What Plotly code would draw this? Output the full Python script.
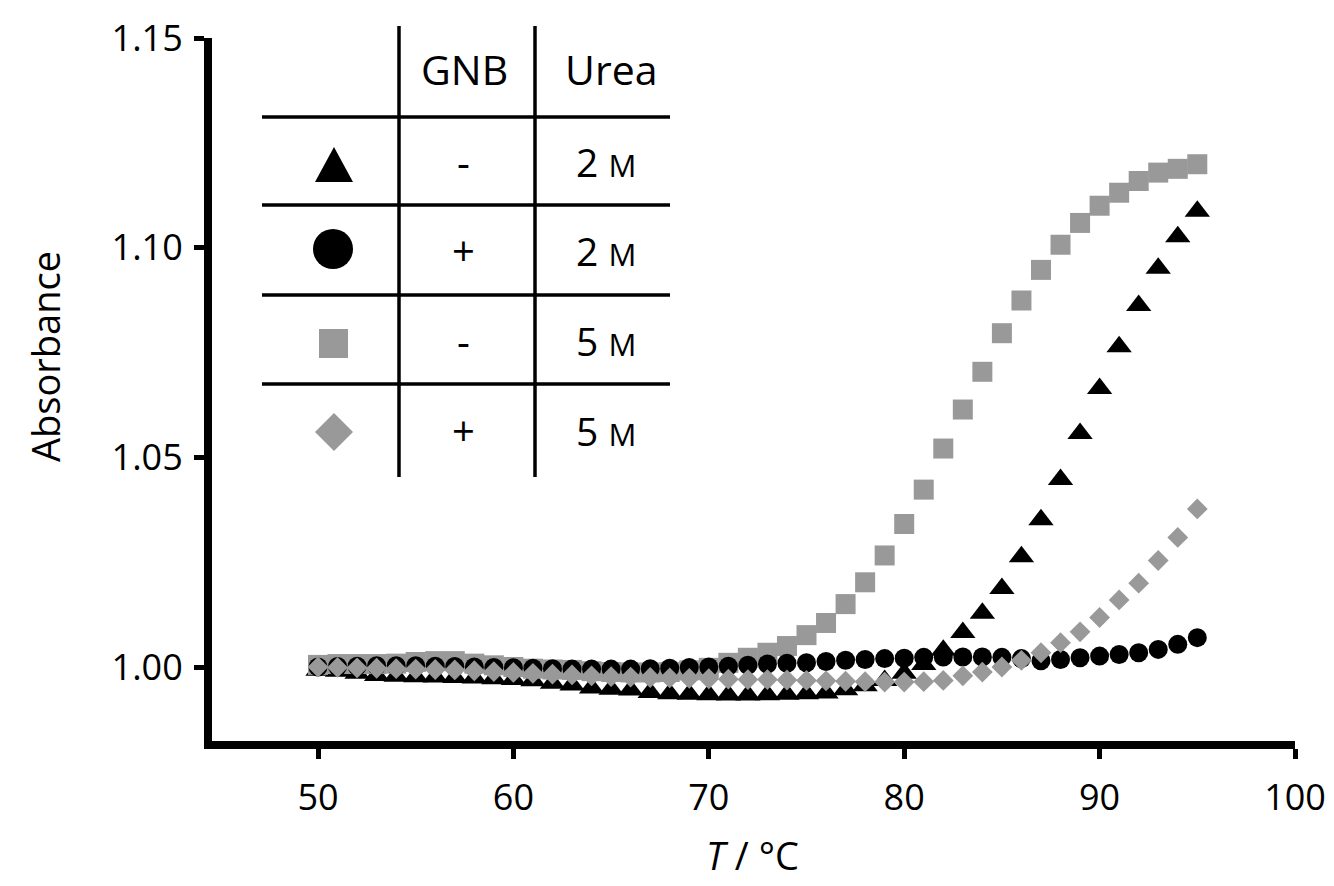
import plotly.graph_objects as go

# ---------------- data ----------------
temps = list(range(50, 96))

tri_2M_noGNB = [0.9992, 0.9990, 0.9985, 0.9980, 0.9978, 0.9977, 0.9976, 0.9975, 0.9974, 0.9972,
                0.9970, 0.9967, 0.9961, 0.9957, 0.9950, 0.9947, 0.9945, 0.9939, 0.9936, 0.9935,
                0.9934, 0.9933, 0.9933, 0.9934, 0.9935, 0.9936, 0.9938, 0.9946, 0.9955, 0.9968,
                0.9985, 1.0006, 1.0040, 1.0082, 1.0128, 1.0187, 1.0263, 1.0351, 1.0447, 1.0557,
                1.0664, 1.0764, 1.0862, 1.0951, 1.1026, 1.1087]

circ_2M_GNB = [1.0000, 1.0001, 1.0002, 1.0003, 1.0003, 1.0003, 1.0002, 1.0001, 1.0000, 0.9999,
               0.9998, 0.9997, 0.9996, 0.9995, 0.9995, 0.9995, 0.9995, 0.9996, 0.9997, 0.9999,
               1.0000, 1.0002, 1.0004, 1.0007, 1.0009, 1.0010, 1.0013, 1.0016, 1.0018, 1.0020,
               1.0021, 1.0023, 1.0024, 1.0024, 1.0024, 1.0023, 1.0020, 1.0015, 1.0018, 1.0022,
               1.0026, 1.0030, 1.0034, 1.0042, 1.0054, 1.0070]

sq_5M_noGNB = [1.0005, 1.0007, 1.0007, 1.0007, 1.0008, 1.0012, 1.0014, 1.0014, 1.0008, 1.0004,
               1.0000, 0.9996, 0.9994, 0.9993, 0.9990, 0.9988, 0.9987, 0.9987, 0.9988, 0.9992,
               0.9998, 1.0010, 1.0022, 1.0034, 1.0050, 1.0076, 1.0105, 1.0150, 1.0202, 1.0266,
               1.0341, 1.0423, 1.0521, 1.0614, 1.0704, 1.0796, 1.0874, 1.0947, 1.1007, 1.1059,
               1.1100, 1.1131, 1.1159, 1.1179, 1.1188, 1.1199]

dia_5M_GNB = [1.0000, 0.9999, 0.9998, 0.9997, 0.9996, 0.9995, 0.9994, 0.9993, 0.9991, 0.9989,
              0.9987, 0.9985, 0.9983, 0.9981, 0.9979, 0.9977, 0.9976, 0.9975, 0.9974, 0.9973,
              0.9972, 0.9971, 0.9970, 0.9970, 0.9969, 0.9968, 0.9967, 0.9966, 0.9965, 0.9964,
              0.9964, 0.9965, 0.9968, 0.9979, 0.9988, 1.0000, 1.0016, 1.0034, 1.0058, 1.0084,
              1.0118, 1.0160, 1.0200, 1.0254, 1.0309, 1.0377]

x_ticks = [50, 60, 70, 80, 90, 100]
y_ticks = [1.00, 1.05, 1.10, 1.15]
y_tick_text = ["1.00", "1.05", "1.10", "1.15"]

table_header = ["GNB", "Urea"]
table_gnb = ["-", "+", "-", "+"]
table_urea = ["2", "2", "5", "5"]

# ---------------- styling ----------------
W, H = 1334, 886
PLOT_L, PLOT_R, PLOT_T, PLOT_B = 212, 1295, 38, 741   # page pixels of plot area
ML, MR, MT, MB = PLOT_L, W - PLOT_R, PLOT_T, H - PLOT_B
PW, PH = W - ML - MR, H - MT - MB
FONT = "Open Sans"
GRAY = "#999999"


def px(xpage):
    return (xpage - PLOT_L) / PW


def py(ypage):
    return (PLOT_B - ypage) / PH


fig = go.Figure()

fig.add_trace(go.Scatter(x=temps, y=tri_2M_noGNB, mode="markers",
                         marker=dict(symbol="triangle-up", size=22, color="black", opacity=1),
                         showlegend=False))
fig.add_trace(go.Scatter(x=temps, y=sq_5M_noGNB, mode="markers",
                         marker=dict(symbol="square", size=20, color=GRAY, opacity=1),
                         showlegend=False))
fig.add_trace(go.Scatter(x=temps, y=circ_2M_GNB, mode="markers",
                         marker=dict(symbol="circle", size=19, color="black", opacity=1),
                         showlegend=False))
fig.add_trace(go.Scatter(x=temps, y=dia_5M_GNB, mode="markers",
                         marker=dict(symbol="diamond", size=16, color=GRAY, opacity=1),
                         showlegend=False))

shapes = []
for xv in [399, 535]:
    shapes.append(dict(type="line", xref="paper", yref="paper",
                       x0=px(xv), x1=px(xv), y0=py(26), y1=py(477),
                       line=dict(color="black", width=3.5)))
for yv in [117, 205, 295, 384]:
    shapes.append(dict(type="line", xref="paper", yref="paper",
                       x0=px(262), x1=px(670), y0=py(yv), y1=py(yv),
                       line=dict(color="black", width=3.5)))


def ppath(points):
    return "M " + " L ".join(f"{px(a):.5f},{py(b):.5f}" for a, b in points) + " Z"


shapes.append(dict(type="path", xref="paper", yref="paper",
                   path=ppath([(334, 147), (315, 182), (353, 182)]),
                   fillcolor="black", line=dict(width=0)))
shapes.append(dict(type="circle", xref="paper", yref="paper",
                   x0=px(313), x1=px(353), y0=py(269), y1=py(229),
                   fillcolor="black", line=dict(width=0)))
shapes.append(dict(type="rect", xref="paper", yref="paper",
                   x0=px(319), x1=px(348), y0=py(358), y1=py(329),
                   fillcolor=GRAY, line=dict(width=0)))
shapes.append(dict(type="path", xref="paper", yref="paper",
                   path=ppath([(334, 413), (353, 432), (334, 451), (315, 432)]),
                   fillcolor=GRAY, line=dict(width=0)))

annotations = []
annotations.append(dict(x=px(464), y=py(69), xref="paper", yref="paper", text=table_header[0],
                        showarrow=False, xanchor="center", yanchor="middle",
                        font=dict(family=FONT, size=41, color="black")))
annotations.append(dict(x=px(611), y=py(69), xref="paper", yref="paper", text=table_header[1],
                        showarrow=False, xanchor="center", yanchor="middle",
                        font=dict(family=FONT, size=41, color="black")))
for g, u, yv in zip(table_gnb, table_urea, [161, 250, 340, 430]):
    annotations.append(dict(x=px(463), y=py(yv), xref="paper", yref="paper", text=g,
                            showarrow=False, xanchor="center", yanchor="middle",
                            font=dict(family=FONT, size=40, color="black")))
    annotations.append(dict(x=px(606), y=py(yv), xref="paper", yref="paper",
                            text=u + " <span style='font-size:31px'>M</span>",
                            showarrow=False, xanchor="center", yanchor="middle",
                            font=dict(family=FONT, size=39, color="black")))

annotations.append(dict(x=px(45), y=py(357), xref="paper", yref="paper", text="Absorbance",
                        textangle=-90, showarrow=False, xanchor="center", yanchor="middle",
                        font=dict(family=FONT, size=38, color="black")))
annotations.append(dict(x=px(752), y=py(855), xref="paper", yref="paper", text="<i>T</i> / °C",
                        showarrow=False, xanchor="center", yanchor="middle",
                        font=dict(family=FONT, size=38, color="black")))

X50, X100 = 318, 1295
x_unit = (X100 - X50) / 50.0
x_min = 50 - (X50 - PLOT_L) / x_unit
Y115, Y100 = 38, 667
y_unit = (Y100 - Y115) / 0.15
y_min = 1.00 - (PLOT_B - Y100) / y_unit

fig.update_layout(
    width=W, height=H,
    margin=dict(l=ML, r=MR, t=MT, b=MB, pad=0, autoexpand=False),
    paper_bgcolor="white", plot_bgcolor="white",
    font=dict(family=FONT, size=36, color="black"),
    shapes=shapes, annotations=annotations,
    hovermode=False,
    xaxis=dict(range=[x_min, 100], tickvals=x_ticks, showgrid=False, zeroline=False,
               automargin=False,
               showline=True, linewidth=8, linecolor="black",
               ticks="outside", ticklen=10, tickwidth=5, tickcolor="black",
               tickfont=dict(family=FONT, size=36), ticklabelstandoff=8),
    yaxis=dict(range=[y_min, 1.15], tickvals=y_ticks, ticktext=y_tick_text,
               showgrid=False, zeroline=False, automargin=False,
               showline=True, linewidth=8, linecolor="black",
               ticks="outside", ticklen=10, tickwidth=5, tickcolor="black",
               tickfont=dict(family=FONT, size=36), ticklabelstandoff=4),
)

fig.write_html(
    "out.html",
    config={"displayModeBar": False},
    post_script="document.documentElement.style.overflow='hidden';"
                "document.body.style.margin='0px';document.body.style.overflow='hidden';",
)
